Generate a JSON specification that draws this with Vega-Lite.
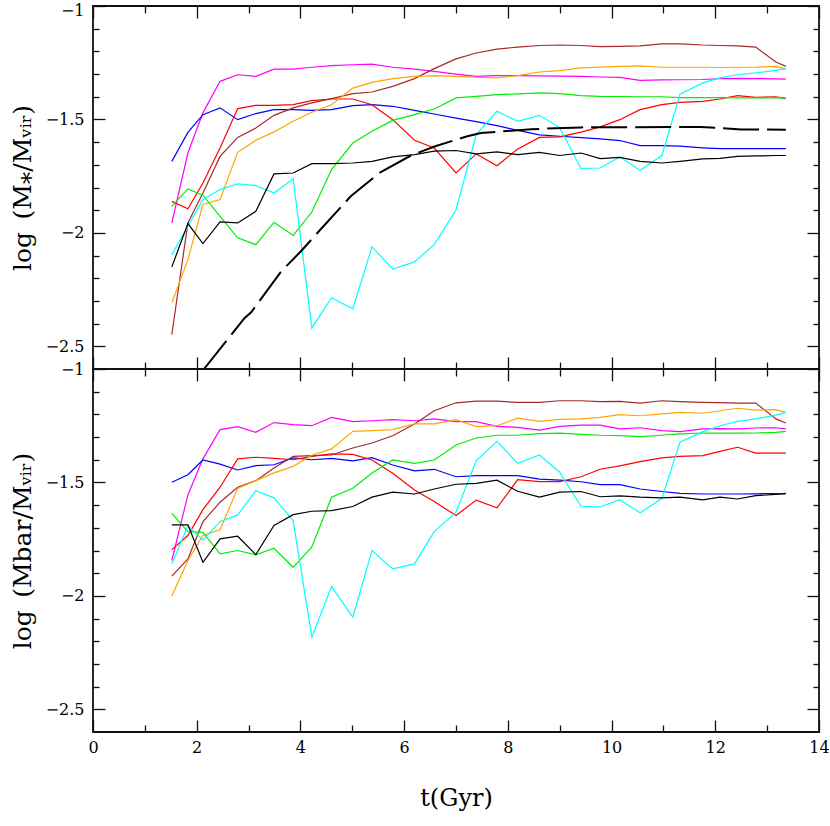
{
  "$schema": "https://vega.github.io/schema/vega-lite/v6.json",
  "padding": {"left": 9, "top": 1, "right": 8, "bottom": 5},
  "spacing": 0,
  "bounds": "flush",
  "datasets": {
    "top": [
      {"s":"magenta","t":1.52,"v":-1.956},{"s":"magenta","t":1.83,"v":-1.648},{"s":"magenta","t":2.12,"v":-1.471},{"s":"magenta","t":2.45,"v":-1.332},{"s":"magenta","t":2.79,"v":-1.303},{"s":"magenta","t":3.14,"v":-1.31},{"s":"magenta","t":3.49,"v":-1.278},{"s":"magenta","t":3.86,"v":-1.278},{"s":"magenta","t":4.22,"v":-1.27},{"s":"magenta","t":4.6,"v":-1.263},{"s":"magenta","t":5.01,"v":-1.259},{"s":"magenta","t":5.38,"v":-1.256},{"s":"magenta","t":5.78,"v":-1.27},{"s":"magenta","t":6.2,"v":-1.278},{"s":"magenta","t":6.58,"v":-1.288},{"s":"magenta","t":7.0,"v":-1.3},{"s":"magenta","t":7.39,"v":-1.31},{"s":"magenta","t":7.79,"v":-1.307},{"s":"magenta","t":8.19,"v":-1.307},{"s":"magenta","t":8.61,"v":-1.308},{"s":"magenta","t":9.0,"v":-1.309},{"s":"magenta","t":9.41,"v":-1.31},{"s":"magenta","t":9.78,"v":-1.313},{"s":"magenta","t":10.16,"v":-1.315},{"s":"magenta","t":10.55,"v":-1.328},{"s":"magenta","t":10.97,"v":-1.326},{"s":"magenta","t":11.32,"v":-1.325},{"s":"magenta","t":11.76,"v":-1.324},{"s":"magenta","t":12.09,"v":-1.32},{"s":"magenta","t":12.43,"v":-1.319},{"s":"magenta","t":12.78,"v":-1.32},{"s":"magenta","t":13.17,"v":-1.321},{"s":"magenta","t":13.36,"v":-1.322},
      {"s":"blue","t":1.52,"v":-1.685},{"s":"blue","t":1.83,"v":-1.557},{"s":"blue","t":2.12,"v":-1.479},{"s":"blue","t":2.45,"v":-1.449},{"s":"blue","t":2.79,"v":-1.501},{"s":"blue","t":3.14,"v":-1.474},{"s":"blue","t":3.49,"v":-1.457},{"s":"blue","t":3.86,"v":-1.457},{"s":"blue","t":4.22,"v":-1.46},{"s":"blue","t":4.6,"v":-1.457},{"s":"blue","t":5.01,"v":-1.439},{"s":"blue","t":5.38,"v":-1.435},{"s":"blue","t":5.78,"v":-1.442},{"s":"blue","t":6.2,"v":-1.46},{"s":"blue","t":6.58,"v":-1.476},{"s":"blue","t":7.0,"v":-1.494},{"s":"blue","t":7.39,"v":-1.51},{"s":"blue","t":7.79,"v":-1.527},{"s":"blue","t":8.19,"v":-1.548},{"s":"blue","t":8.61,"v":-1.568},{"s":"blue","t":9.0,"v":-1.574},{"s":"blue","t":9.41,"v":-1.58},{"s":"blue","t":9.78,"v":-1.586},{"s":"blue","t":10.16,"v":-1.593},{"s":"blue","t":10.55,"v":-1.615},{"s":"blue","t":10.97,"v":-1.615},{"s":"blue","t":11.32,"v":-1.618},{"s":"blue","t":11.76,"v":-1.625},{"s":"blue","t":12.09,"v":-1.629},{"s":"blue","t":12.43,"v":-1.629},{"s":"blue","t":12.78,"v":-1.629},{"s":"blue","t":13.17,"v":-1.629},{"s":"blue","t":13.36,"v":-1.629},
      {"s":"red","t":1.52,"v":-1.861},{"s":"red","t":1.83,"v":-1.894},{"s":"red","t":2.12,"v":-1.78},{"s":"red","t":2.45,"v":-1.626},{"s":"red","t":2.79,"v":-1.452},{"s":"red","t":3.14,"v":-1.438},{"s":"red","t":3.49,"v":-1.438},{"s":"red","t":3.86,"v":-1.435},{"s":"red","t":4.22,"v":-1.417},{"s":"red","t":4.6,"v":-1.41},{"s":"red","t":5.01,"v":-1.41},{"s":"red","t":5.38,"v":-1.435},{"s":"red","t":5.78,"v":-1.501},{"s":"red","t":6.2,"v":-1.592},{"s":"red","t":6.58,"v":-1.626},{"s":"red","t":7.0,"v":-1.736},{"s":"red","t":7.39,"v":-1.652},{"s":"red","t":7.79,"v":-1.704},{"s":"red","t":8.19,"v":-1.63},{"s":"red","t":8.61,"v":-1.579},{"s":"red","t":9.0,"v":-1.577},{"s":"red","t":9.41,"v":-1.556},{"s":"red","t":9.78,"v":-1.533},{"s":"red","t":10.16,"v":-1.501},{"s":"red","t":10.55,"v":-1.457},{"s":"red","t":10.97,"v":-1.435},{"s":"red","t":11.32,"v":-1.425},{"s":"red","t":11.76,"v":-1.42},{"s":"red","t":12.09,"v":-1.41},{"s":"red","t":12.43,"v":-1.395},{"s":"red","t":12.78,"v":-1.403},{"s":"red","t":13.17,"v":-1.4},{"s":"red","t":13.36,"v":-1.408},
      {"s":"brown","t":1.52,"v":-2.448},{"s":"brown","t":1.83,"v":-1.956},{"s":"brown","t":2.12,"v":-1.824},{"s":"brown","t":2.45,"v":-1.663},{"s":"brown","t":2.79,"v":-1.579},{"s":"brown","t":3.14,"v":-1.538},{"s":"brown","t":3.49,"v":-1.482},{"s":"brown","t":3.86,"v":-1.449},{"s":"brown","t":4.22,"v":-1.427},{"s":"brown","t":4.6,"v":-1.408},{"s":"brown","t":5.01,"v":-1.386},{"s":"brown","t":5.38,"v":-1.379},{"s":"brown","t":5.78,"v":-1.354},{"s":"brown","t":6.2,"v":-1.32},{"s":"brown","t":6.58,"v":-1.276},{"s":"brown","t":7.0,"v":-1.233},{"s":"brown","t":7.39,"v":-1.207},{"s":"brown","t":7.79,"v":-1.19},{"s":"brown","t":8.19,"v":-1.181},{"s":"brown","t":8.61,"v":-1.174},{"s":"brown","t":9.0,"v":-1.172},{"s":"brown","t":9.41,"v":-1.174},{"s":"brown","t":9.78,"v":-1.179},{"s":"brown","t":10.16,"v":-1.178},{"s":"brown","t":10.55,"v":-1.176},{"s":"brown","t":10.97,"v":-1.167},{"s":"brown","t":11.32,"v":-1.167},{"s":"brown","t":11.76,"v":-1.172},{"s":"brown","t":12.09,"v":-1.174},{"s":"brown","t":12.43,"v":-1.176},{"s":"brown","t":12.78,"v":-1.181},{"s":"brown","t":13.17,"v":-1.247},{"s":"brown","t":13.36,"v":-1.266},
      {"s":"orange","t":1.52,"v":-2.308},{"s":"orange","t":1.83,"v":-2.118},{"s":"orange","t":2.12,"v":-1.875},{"s":"orange","t":2.45,"v":-1.853},{"s":"orange","t":2.79,"v":-1.645},{"s":"orange","t":3.14,"v":-1.592},{"s":"orange","t":3.49,"v":-1.555},{"s":"orange","t":3.86,"v":-1.508},{"s":"orange","t":4.22,"v":-1.468},{"s":"orange","t":4.6,"v":-1.435},{"s":"orange","t":5.01,"v":-1.362},{"s":"orange","t":5.38,"v":-1.337},{"s":"orange","t":5.78,"v":-1.32},{"s":"orange","t":6.2,"v":-1.31},{"s":"orange","t":6.58,"v":-1.307},{"s":"orange","t":7.0,"v":-1.31},{"s":"orange","t":7.39,"v":-1.314},{"s":"orange","t":7.79,"v":-1.317},{"s":"orange","t":8.19,"v":-1.307},{"s":"orange","t":8.61,"v":-1.291},{"s":"orange","t":9.0,"v":-1.285},{"s":"orange","t":9.41,"v":-1.273},{"s":"orange","t":9.78,"v":-1.269},{"s":"orange","t":10.16,"v":-1.266},{"s":"orange","t":10.55,"v":-1.264},{"s":"orange","t":10.97,"v":-1.27},{"s":"orange","t":11.32,"v":-1.27},{"s":"orange","t":11.76,"v":-1.27},{"s":"orange","t":12.09,"v":-1.271},{"s":"orange","t":12.43,"v":-1.27},{"s":"orange","t":12.78,"v":-1.27},{"s":"orange","t":13.17,"v":-1.266},{"s":"orange","t":13.36,"v":-1.278},
      {"s":"green","t":1.52,"v":-1.883},{"s":"green","t":1.83,"v":-1.806},{"s":"green","t":2.12,"v":-1.834},{"s":"green","t":2.45,"v":-1.927},{"s":"green","t":2.79,"v":-2.022},{"s":"green","t":3.14,"v":-2.052},{"s":"green","t":3.49,"v":-1.953},{"s":"green","t":3.86,"v":-2.011},{"s":"green","t":4.22,"v":-1.908},{"s":"green","t":4.6,"v":-1.721},{"s":"green","t":5.01,"v":-1.604},{"s":"green","t":5.38,"v":-1.552},{"s":"green","t":5.78,"v":-1.504},{"s":"green","t":6.2,"v":-1.479},{"s":"green","t":6.58,"v":-1.454},{"s":"green","t":7.0,"v":-1.405},{"s":"green","t":7.39,"v":-1.398},{"s":"green","t":7.79,"v":-1.391},{"s":"green","t":8.19,"v":-1.387},{"s":"green","t":8.61,"v":-1.383},{"s":"green","t":9.0,"v":-1.386},{"s":"green","t":9.41,"v":-1.395},{"s":"green","t":9.78,"v":-1.398},{"s":"green","t":10.16,"v":-1.399},{"s":"green","t":10.55,"v":-1.4},{"s":"green","t":10.97,"v":-1.4},{"s":"green","t":11.32,"v":-1.404},{"s":"green","t":11.76,"v":-1.404},{"s":"green","t":12.09,"v":-1.404},{"s":"green","t":12.43,"v":-1.405},{"s":"green","t":12.78,"v":-1.405},{"s":"green","t":13.17,"v":-1.405},{"s":"green","t":13.36,"v":-1.405},
      {"s":"cyan","t":1.52,"v":-2.096},{"s":"cyan","t":1.83,"v":-1.971},{"s":"cyan","t":2.12,"v":-1.853},{"s":"cyan","t":2.45,"v":-1.809},{"s":"cyan","t":2.79,"v":-1.784},{"s":"cyan","t":3.14,"v":-1.792},{"s":"cyan","t":3.49,"v":-1.824},{"s":"cyan","t":3.86,"v":-1.762},{"s":"cyan","t":4.22,"v":-2.419},{"s":"cyan","t":4.6,"v":-2.286},{"s":"cyan","t":5.01,"v":-2.335},{"s":"cyan","t":5.38,"v":-2.062},{"s":"cyan","t":5.78,"v":-2.159},{"s":"cyan","t":6.2,"v":-2.128},{"s":"cyan","t":6.58,"v":-2.052},{"s":"cyan","t":7.0,"v":-1.899},{"s":"cyan","t":7.39,"v":-1.567},{"s":"cyan","t":7.79,"v":-1.464},{"s":"cyan","t":8.19,"v":-1.508},{"s":"cyan","t":8.61,"v":-1.482},{"s":"cyan","t":9.0,"v":-1.536},{"s":"cyan","t":9.41,"v":-1.716},{"s":"cyan","t":9.78,"v":-1.714},{"s":"cyan","t":10.16,"v":-1.665},{"s":"cyan","t":10.55,"v":-1.724},{"s":"cyan","t":10.97,"v":-1.659},{"s":"cyan","t":11.32,"v":-1.389},{"s":"cyan","t":11.76,"v":-1.339},{"s":"cyan","t":12.09,"v":-1.317},{"s":"cyan","t":12.43,"v":-1.303},{"s":"cyan","t":12.78,"v":-1.295},{"s":"cyan","t":13.17,"v":-1.284},{"s":"cyan","t":13.36,"v":-1.276},
      {"s":"black","t":1.52,"v":-2.15},{"s":"black","t":1.83,"v":-1.959},{"s":"black","t":2.12,"v":-2.047},{"s":"black","t":2.45,"v":-1.952},{"s":"black","t":2.79,"v":-1.956},{"s":"black","t":3.14,"v":-1.905},{"s":"black","t":3.49,"v":-1.74},{"s":"black","t":3.86,"v":-1.736},{"s":"black","t":4.22,"v":-1.695},{"s":"black","t":4.6,"v":-1.695},{"s":"black","t":5.01,"v":-1.692},{"s":"black","t":5.38,"v":-1.685},{"s":"black","t":5.78,"v":-1.665},{"s":"black","t":6.2,"v":-1.655},{"s":"black","t":6.58,"v":-1.64},{"s":"black","t":7.0,"v":-1.637},{"s":"black","t":7.39,"v":-1.652},{"s":"black","t":7.79,"v":-1.643},{"s":"black","t":8.19,"v":-1.655},{"s":"black","t":8.61,"v":-1.645},{"s":"black","t":9.0,"v":-1.659},{"s":"black","t":9.41,"v":-1.648},{"s":"black","t":9.78,"v":-1.673},{"s":"black","t":10.16,"v":-1.667},{"s":"black","t":10.55,"v":-1.685},{"s":"black","t":10.97,"v":-1.692},{"s":"black","t":11.32,"v":-1.685},{"s":"black","t":11.76,"v":-1.674},{"s":"black","t":12.09,"v":-1.672},{"s":"black","t":12.43,"v":-1.663},{"s":"black","t":12.78,"v":-1.661},{"s":"black","t":13.17,"v":-1.659},{"s":"black","t":13.36,"v":-1.659}
    ],
    "dash": [
      {"t":2.14,"v":-2.6},{"t":2.92,"v":-2.376},{"t":3.05,"v":-2.35},{"t":3.63,"v":-2.17},{"t":4.01,"v":-2.081},{"t":4.4,"v":-1.982},{"t":4.97,"v":-1.839},{"t":5.52,"v":-1.736},{"t":6.13,"v":-1.659},{"t":6.6,"v":-1.618},{"t":7.22,"v":-1.574},{"t":7.48,"v":-1.56},{"t":8.45,"v":-1.543},{"t":9.41,"v":-1.535},{"t":11.72,"v":-1.533},{"t":12.5,"v":-1.544},{"t":13.36,"v":-1.545}
    ],
    "bottom": [
      {"s":"magenta","t":1.52,"v":-1.844},{"s":"magenta","t":1.83,"v":-1.555},{"s":"magenta","t":2.12,"v":-1.396},{"s":"magenta","t":2.45,"v":-1.267},{"s":"magenta","t":2.79,"v":-1.254},{"s":"magenta","t":3.14,"v":-1.279},{"s":"magenta","t":3.49,"v":-1.236},{"s":"magenta","t":3.86,"v":-1.245},{"s":"magenta","t":4.22,"v":-1.25},{"s":"magenta","t":4.6,"v":-1.213},{"s":"magenta","t":5.01,"v":-1.232},{"s":"magenta","t":5.38,"v":-1.228},{"s":"magenta","t":5.78,"v":-1.223},{"s":"magenta","t":6.2,"v":-1.228},{"s":"magenta","t":6.58,"v":-1.22},{"s":"magenta","t":7.0,"v":-1.232},{"s":"magenta","t":7.39,"v":-1.232},{"s":"magenta","t":7.79,"v":-1.253},{"s":"magenta","t":8.19,"v":-1.257},{"s":"magenta","t":8.61,"v":-1.269},{"s":"magenta","t":9.0,"v":-1.253},{"s":"magenta","t":9.41,"v":-1.247},{"s":"magenta","t":9.78,"v":-1.247},{"s":"magenta","t":10.16,"v":-1.264},{"s":"magenta","t":10.55,"v":-1.259},{"s":"magenta","t":10.97,"v":-1.272},{"s":"magenta","t":11.32,"v":-1.276},{"s":"magenta","t":11.76,"v":-1.264},{"s":"magenta","t":12.09,"v":-1.263},{"s":"magenta","t":12.43,"v":-1.264},{"s":"magenta","t":12.78,"v":-1.26},{"s":"magenta","t":13.17,"v":-1.259},{"s":"magenta","t":13.36,"v":-1.264},
      {"s":"blue","t":1.52,"v":-1.499},{"s":"blue","t":1.83,"v":-1.466},{"s":"blue","t":2.12,"v":-1.401},{"s":"blue","t":2.45,"v":-1.419},{"s":"blue","t":2.79,"v":-1.445},{"s":"blue","t":3.14,"v":-1.426},{"s":"blue","t":3.49,"v":-1.422},{"s":"blue","t":3.86,"v":-1.392},{"s":"blue","t":4.22,"v":-1.4},{"s":"blue","t":4.6,"v":-1.394},{"s":"blue","t":5.01,"v":-1.405},{"s":"blue","t":5.38,"v":-1.391},{"s":"blue","t":5.78,"v":-1.423},{"s":"blue","t":6.2,"v":-1.449},{"s":"blue","t":6.58,"v":-1.442},{"s":"blue","t":7.0,"v":-1.475},{"s":"blue","t":7.39,"v":-1.47},{"s":"blue","t":7.79,"v":-1.47},{"s":"blue","t":8.19,"v":-1.47},{"s":"blue","t":8.61,"v":-1.485},{"s":"blue","t":9.0,"v":-1.49},{"s":"blue","t":9.41,"v":-1.497},{"s":"blue","t":9.78,"v":-1.51},{"s":"blue","t":10.16,"v":-1.51},{"s":"blue","t":10.55,"v":-1.529},{"s":"blue","t":10.97,"v":-1.54},{"s":"blue","t":11.32,"v":-1.548},{"s":"blue","t":11.76,"v":-1.551},{"s":"blue","t":12.09,"v":-1.551},{"s":"blue","t":12.43,"v":-1.551},{"s":"blue","t":12.78,"v":-1.55},{"s":"blue","t":13.17,"v":-1.549},{"s":"blue","t":13.36,"v":-1.551},
      {"s":"red","t":1.52,"v":-1.796},{"s":"red","t":1.83,"v":-1.734},{"s":"red","t":2.12,"v":-1.62},{"s":"red","t":2.45,"v":-1.521},{"s":"red","t":2.79,"v":-1.396},{"s":"red","t":3.14,"v":-1.389},{"s":"red","t":3.49,"v":-1.394},{"s":"red","t":3.86,"v":-1.4},{"s":"red","t":4.22,"v":-1.385},{"s":"red","t":4.6,"v":-1.374},{"s":"red","t":5.01,"v":-1.376},{"s":"red","t":5.38,"v":-1.401},{"s":"red","t":5.78,"v":-1.46},{"s":"red","t":6.2,"v":-1.533},{"s":"red","t":6.58,"v":-1.584},{"s":"red","t":7.0,"v":-1.646},{"s":"red","t":7.39,"v":-1.578},{"s":"red","t":7.79,"v":-1.612},{"s":"red","t":8.19,"v":-1.488},{"s":"red","t":8.61,"v":-1.496},{"s":"red","t":9.0,"v":-1.496},{"s":"red","t":9.41,"v":-1.475},{"s":"red","t":9.78,"v":-1.442},{"s":"red","t":10.16,"v":-1.427},{"s":"red","t":10.55,"v":-1.408},{"s":"red","t":10.97,"v":-1.392},{"s":"red","t":11.32,"v":-1.385},{"s":"red","t":11.76,"v":-1.382},{"s":"red","t":12.09,"v":-1.363},{"s":"red","t":12.43,"v":-1.345},{"s":"red","t":12.78,"v":-1.371},{"s":"red","t":13.17,"v":-1.371},{"s":"red","t":13.36,"v":-1.371},
      {"s":"brown","t":1.52,"v":-1.913},{"s":"brown","t":1.83,"v":-1.837},{"s":"brown","t":2.12,"v":-1.673},{"s":"brown","t":2.45,"v":-1.587},{"s":"brown","t":2.79,"v":-1.521},{"s":"brown","t":3.14,"v":-1.492},{"s":"brown","t":3.49,"v":-1.436},{"s":"brown","t":3.86,"v":-1.385},{"s":"brown","t":4.22,"v":-1.382},{"s":"brown","t":4.6,"v":-1.379},{"s":"brown","t":5.01,"v":-1.348},{"s":"brown","t":5.38,"v":-1.326},{"s":"brown","t":5.78,"v":-1.294},{"s":"brown","t":6.2,"v":-1.242},{"s":"brown","t":6.58,"v":-1.184},{"s":"brown","t":7.0,"v":-1.149},{"s":"brown","t":7.39,"v":-1.142},{"s":"brown","t":7.79,"v":-1.142},{"s":"brown","t":8.19,"v":-1.147},{"s":"brown","t":8.61,"v":-1.147},{"s":"brown","t":9.0,"v":-1.14},{"s":"brown","t":9.41,"v":-1.14},{"s":"brown","t":9.78,"v":-1.144},{"s":"brown","t":10.16,"v":-1.143},{"s":"brown","t":10.55,"v":-1.15},{"s":"brown","t":10.97,"v":-1.14},{"s":"brown","t":11.32,"v":-1.144},{"s":"brown","t":11.76,"v":-1.147},{"s":"brown","t":12.09,"v":-1.148},{"s":"brown","t":12.43,"v":-1.15},{"s":"brown","t":12.78,"v":-1.15},{"s":"brown","t":13.17,"v":-1.22},{"s":"brown","t":13.36,"v":-1.238},
      {"s":"orange","t":1.52,"v":-2.001},{"s":"orange","t":1.83,"v":-1.844},{"s":"orange","t":2.12,"v":-1.734},{"s":"orange","t":2.45,"v":-1.709},{"s":"orange","t":2.79,"v":-1.526},{"s":"orange","t":3.14,"v":-1.492},{"s":"orange","t":3.49,"v":-1.458},{"s":"orange","t":3.86,"v":-1.429},{"s":"orange","t":4.22,"v":-1.38},{"s":"orange","t":4.6,"v":-1.352},{"s":"orange","t":5.01,"v":-1.275},{"s":"orange","t":5.38,"v":-1.272},{"s":"orange","t":5.78,"v":-1.267},{"s":"orange","t":6.2,"v":-1.242},{"s":"orange","t":6.58,"v":-1.242},{"s":"orange","t":7.0,"v":-1.223},{"s":"orange","t":7.39,"v":-1.254},{"s":"orange","t":7.79,"v":-1.25},{"s":"orange","t":8.19,"v":-1.217},{"s":"orange","t":8.61,"v":-1.231},{"s":"orange","t":9.0,"v":-1.222},{"s":"orange","t":9.41,"v":-1.22},{"s":"orange","t":9.78,"v":-1.213},{"s":"orange","t":10.16,"v":-1.201},{"s":"orange","t":10.55,"v":-1.206},{"s":"orange","t":10.97,"v":-1.198},{"s":"orange","t":11.32,"v":-1.191},{"s":"orange","t":11.76,"v":-1.195},{"s":"orange","t":12.09,"v":-1.184},{"s":"orange","t":12.43,"v":-1.173},{"s":"orange","t":12.78,"v":-1.181},{"s":"orange","t":13.17,"v":-1.179},{"s":"orange","t":13.36,"v":-1.191},
      {"s":"green","t":1.52,"v":-1.636},{"s":"green","t":1.83,"v":-1.717},{"s":"green","t":2.12,"v":-1.72},{"s":"green","t":2.45,"v":-1.815},{"s":"green","t":2.79,"v":-1.8},{"s":"green","t":3.14,"v":-1.819},{"s":"green","t":3.49,"v":-1.79},{"s":"green","t":3.86,"v":-1.874},{"s":"green","t":4.22,"v":-1.784},{"s":"green","t":4.6,"v":-1.565},{"s":"green","t":5.01,"v":-1.526},{"s":"green","t":5.38,"v":-1.458},{"s":"green","t":5.78,"v":-1.401},{"s":"green","t":6.2,"v":-1.416},{"s":"green","t":6.58,"v":-1.401},{"s":"green","t":7.0,"v":-1.335},{"s":"green","t":7.39,"v":-1.304},{"s":"green","t":7.79,"v":-1.292},{"s":"green","t":8.19,"v":-1.292},{"s":"green","t":8.61,"v":-1.285},{"s":"green","t":9.0,"v":-1.283},{"s":"green","t":9.41,"v":-1.288},{"s":"green","t":9.78,"v":-1.292},{"s":"green","t":10.16,"v":-1.294},{"s":"green","t":10.55,"v":-1.298},{"s":"green","t":10.97,"v":-1.292},{"s":"green","t":11.32,"v":-1.286},{"s":"green","t":11.76,"v":-1.282},{"s":"green","t":12.09,"v":-1.283},{"s":"green","t":12.43,"v":-1.283},{"s":"green","t":12.78,"v":-1.282},{"s":"green","t":13.17,"v":-1.279},{"s":"green","t":13.36,"v":-1.275},
      {"s":"cyan","t":1.52,"v":-1.859},{"s":"cyan","t":1.83,"v":-1.69},{"s":"cyan","t":2.12,"v":-1.753},{"s":"cyan","t":2.45,"v":-1.673},{"s":"cyan","t":2.79,"v":-1.643},{"s":"cyan","t":3.14,"v":-1.536},{"s":"cyan","t":3.49,"v":-1.568},{"s":"cyan","t":3.86,"v":-1.668},{"s":"cyan","t":4.22,"v":-2.182},{"s":"cyan","t":4.6,"v":-1.959},{"s":"cyan","t":5.01,"v":-2.094},{"s":"cyan","t":5.38,"v":-1.8},{"s":"cyan","t":5.78,"v":-1.881},{"s":"cyan","t":6.2,"v":-1.859},{"s":"cyan","t":6.58,"v":-1.717},{"s":"cyan","t":7.0,"v":-1.631},{"s":"cyan","t":7.39,"v":-1.405},{"s":"cyan","t":7.79,"v":-1.319},{"s":"cyan","t":8.19,"v":-1.416},{"s":"cyan","t":8.61,"v":-1.379},{"s":"cyan","t":9.0,"v":-1.455},{"s":"cyan","t":9.41,"v":-1.605},{"s":"cyan","t":9.78,"v":-1.608},{"s":"cyan","t":10.16,"v":-1.576},{"s":"cyan","t":10.55,"v":-1.634},{"s":"cyan","t":10.97,"v":-1.57},{"s":"cyan","t":11.32,"v":-1.323},{"s":"cyan","t":11.76,"v":-1.276},{"s":"cyan","t":12.09,"v":-1.25},{"s":"cyan","t":12.43,"v":-1.231},{"s":"cyan","t":12.78,"v":-1.22},{"s":"cyan","t":13.17,"v":-1.203},{"s":"cyan","t":13.36,"v":-1.191},
      {"s":"black","t":1.52,"v":-1.687},{"s":"black","t":1.83,"v":-1.687},{"s":"black","t":2.12,"v":-1.852},{"s":"black","t":2.45,"v":-1.749},{"s":"black","t":2.79,"v":-1.737},{"s":"black","t":3.14,"v":-1.818},{"s":"black","t":3.49,"v":-1.69},{"s":"black","t":3.86,"v":-1.642},{"s":"black","t":4.22,"v":-1.627},{"s":"black","t":4.6,"v":-1.624},{"s":"black","t":5.01,"v":-1.606},{"s":"black","t":5.38,"v":-1.565},{"s":"black","t":5.78,"v":-1.543},{"s":"black","t":6.2,"v":-1.551},{"s":"black","t":6.58,"v":-1.529},{"s":"black","t":7.0,"v":-1.508},{"s":"black","t":7.39,"v":-1.504},{"s":"black","t":7.79,"v":-1.49},{"s":"black","t":8.19,"v":-1.539},{"s":"black","t":8.61,"v":-1.565},{"s":"black","t":9.0,"v":-1.543},{"s":"black","t":9.41,"v":-1.54},{"s":"black","t":9.78,"v":-1.563},{"s":"black","t":10.16,"v":-1.559},{"s":"black","t":10.55,"v":-1.565},{"s":"black","t":10.97,"v":-1.568},{"s":"black","t":11.32,"v":-1.565},{"s":"black","t":11.76,"v":-1.577},{"s":"black","t":12.09,"v":-1.565},{"s":"black","t":12.43,"v":-1.573},{"s":"black","t":12.78,"v":-1.558},{"s":"black","t":13.17,"v":-1.553},{"s":"black","t":13.36,"v":-1.548}
    ]
  },
  "vconcat": [
    {
      "width": 726,
      "height": 363,
      "resolve": {"axis": {"x": "independent", "y": "independent"}},
      "layer": [
        {
          "data": {"name": "top"},
          "mark": {"type": "line", "strokeWidth": 1.2, "clip": true},
          "encoding": {
            "x": {"field": "t", "type": "quantitative", "scale": {"domain": [0, 14], "nice": false, "zero": false},
                  "axis": {"orient": "top", "values": [0, 2, 4, 6, 8, 10, 12, 14], "tickSize": -12, "labels": false, "title": null}},
            "y": {"field": "v", "type": "quantitative", "scale": {"domain": [-2.6, -1], "nice": false, "zero": false},
                  "axis": {"orient": "left", "values": [-1, -1.5, -2, -2.5], "format": "~g", "tickSize": -12, "labelPadding": 21,
                           "labelOffset": {"condition": {"test": "datum.value === -1", "value": 4}, "value": 0},
                           "title": "log\u2002(M⁎/Mᵥᵢᵣ)", "titlePadding": 10, "titleFontSize": 25}},
            "color": {"field": "s", "type": "nominal", "legend": null,
                      "scale": {"domain": ["magenta", "blue", "red", "brown", "orange", "green", "cyan", "black"],
                                "range": ["#ff00ff", "#0000ff", "#ff0000", "#a52a2a", "#ffa500", "#00ee00", "#00ffff", "#000000"]}}
          }
        },
        {
          "data": {"name": "dash"},
          "mark": {"type": "line", "strokeWidth": 2, "color": "#000000", "strokeDash": [36, 8], "clip": true},
          "encoding": {
            "x": {"field": "t", "type": "quantitative", "scale": {"domain": [0, 14], "nice": false, "zero": false},
                  "axis": {"orient": "bottom", "values": [0, 2, 4, 6, 8, 10, 12, 14], "tickSize": -12, "labels": false, "title": null}},
            "y": {"field": "v", "type": "quantitative", "scale": {"domain": [-2.6, -1], "nice": false, "zero": false},
                  "axis": {"orient": "right", "values": [-1, -1.5, -2, -2.5], "tickSize": -12, "labels": false, "title": null}}
          }
        },
        {
          "data": {"name": "top"},
          "mark": {"type": "point", "opacity": 0},
          "encoding": {
            "x": {"field": "t", "type": "quantitative", "scale": {"domain": [0, 14], "nice": false, "zero": false},
                  "axis": {"orient": "top", "values": [1, 3, 5, 7, 9, 11, 13], "tickSize": -7, "labels": false, "title": null}},
            "y": {"field": "v", "type": "quantitative", "scale": {"domain": [-2.6, -1], "nice": false, "zero": false},
                  "axis": {"orient": "left", "values": [-1.1, -1.2, -1.3, -1.4, -1.6, -1.7, -1.8, -1.9, -2.1, -2.2, -2.3, -2.4], "tickSize": -6, "labels": false, "title": null}}
          }
        },
        {
          "data": {"name": "top"},
          "mark": {"type": "point", "opacity": 0},
          "encoding": {
            "x": {"field": "t", "type": "quantitative", "scale": {"domain": [0, 14], "nice": false, "zero": false},
                  "axis": {"orient": "bottom", "values": [1, 3, 5, 7, 9, 11, 13], "tickSize": -7, "labels": false, "title": null}},
            "y": {"field": "v", "type": "quantitative", "scale": {"domain": [-2.6, -1], "nice": false, "zero": false},
                  "axis": {"orient": "right", "values": [-1.1, -1.2, -1.3, -1.4, -1.6, -1.7, -1.8, -1.9, -2.1, -2.2, -2.3, -2.4], "tickSize": -6, "labels": false, "title": null}}
          }
        }
      ]
    },
    {
      "width": 726,
      "height": 363,
      "resolve": {"axis": {"x": "independent", "y": "independent"}},
      "layer": [
        {
          "data": {"name": "bottom"},
          "mark": {"type": "line", "strokeWidth": 1.2, "clip": true},
          "encoding": {
            "x": {"field": "t", "type": "quantitative", "scale": {"domain": [0, 14], "nice": false, "zero": false},
                  "axis": {"orient": "bottom", "values": [0, 2, 4, 6, 8, 10, 12, 14], "tickSize": -12, "labelPadding": 19, "title": "t(Gyr)", "titlePadding": 31}},
            "y": {"field": "v", "type": "quantitative", "scale": {"domain": [-2.6, -1], "nice": false, "zero": false},
                  "axis": {"orient": "left", "values": [-1, -1.5, -2, -2.5], "format": "~g", "tickSize": -12, "labelPadding": 21,
                           "title": "log\u2002(Mbar/Mᵥᵢᵣ)", "titlePadding": 10, "titleFontSize": 25}},
            "color": {"field": "s", "type": "nominal", "legend": null,
                      "scale": {"domain": ["magenta", "blue", "red", "brown", "orange", "green", "cyan", "black"],
                                "range": ["#ff00ff", "#0000ff", "#ff0000", "#a52a2a", "#ffa500", "#00ee00", "#00ffff", "#000000"]}}
          }
        },
        {
          "data": {"name": "bottom"},
          "mark": {"type": "point", "opacity": 0},
          "encoding": {
            "x": {"field": "t", "type": "quantitative", "scale": {"domain": [0, 14], "nice": false, "zero": false},
                  "axis": {"orient": "top", "values": [0, 2, 4, 6, 8, 10, 12, 14], "tickSize": -12, "labels": false, "title": null}},
            "y": {"field": "v", "type": "quantitative", "scale": {"domain": [-2.6, -1], "nice": false, "zero": false},
                  "axis": {"orient": "right", "values": [-1, -1.5, -2, -2.5], "tickSize": -12, "labels": false, "title": null}}
          }
        },
        {
          "data": {"name": "bottom"},
          "mark": {"type": "point", "opacity": 0},
          "encoding": {
            "x": {"field": "t", "type": "quantitative", "scale": {"domain": [0, 14], "nice": false, "zero": false},
                  "axis": {"orient": "top", "values": [1, 3, 5, 7, 9, 11, 13], "tickSize": -7, "labels": false, "title": null}},
            "y": {"field": "v", "type": "quantitative", "scale": {"domain": [-2.6, -1], "nice": false, "zero": false},
                  "axis": {"orient": "left", "values": [-1.1, -1.2, -1.3, -1.4, -1.6, -1.7, -1.8, -1.9, -2.1, -2.2, -2.3, -2.4], "tickSize": -6, "labels": false, "title": null}}
          }
        },
        {
          "data": {"name": "bottom"},
          "mark": {"type": "point", "opacity": 0},
          "encoding": {
            "x": {"field": "t", "type": "quantitative", "scale": {"domain": [0, 14], "nice": false, "zero": false},
                  "axis": {"orient": "bottom", "values": [1, 3, 5, 7, 9, 11, 13], "tickSize": -7, "labels": false, "title": null}},
            "y": {"field": "v", "type": "quantitative", "scale": {"domain": [-2.6, -1], "nice": false, "zero": false},
                  "axis": {"orient": "right", "values": [-1.1, -1.2, -1.3, -1.4, -1.6, -1.7, -1.8, -1.9, -2.1, -2.2, -2.3, -2.4], "tickSize": -6, "labels": false, "title": null}}
          }
        }
      ]
    }
  ],
  "config": {
    "font": "DejaVu Serif",
    "background": "#ffffff",
    "view": {"stroke": "#111111", "strokeWidth": 1.8},
    "concat": {"spacing": 0},
    "axis": {
      "domain": false,
      "grid": false,
      "tickColor": "#111111",
      "tickWidth": 1.3,
      "labelFont": "DejaVu Serif",
      "labelFontSize": 16,
      "labelColor": "#000000",
      "labelFlush": false,
      "labelOverlap": false,
      "titleFont": "DejaVu Serif",
      "titleFontSize": 24,
      "titleFontWeight": "normal",
      "titleColor": "#000000"
    }
  }
}
